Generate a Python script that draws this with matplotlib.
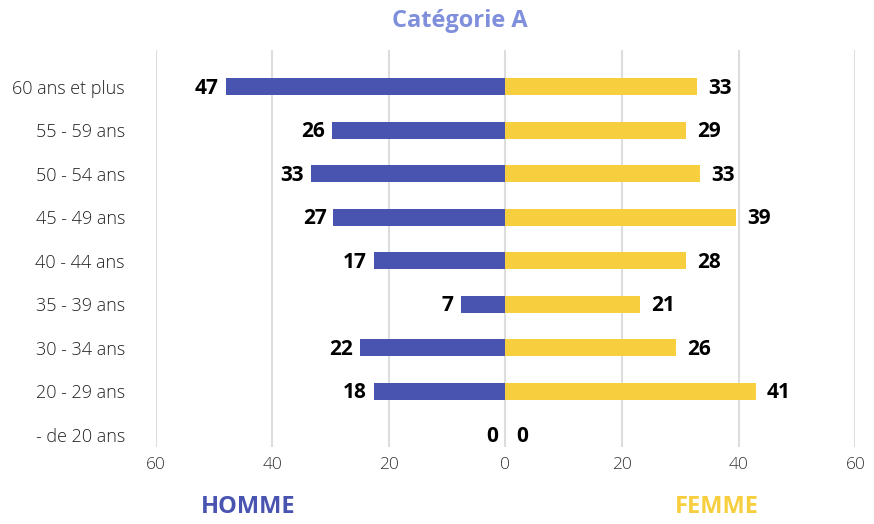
import numpy as np
import matplotlib
matplotlib.use('Agg')
import matplotlib.pyplot as plt

plt.rcParams['font.family'] = ['Open Sans', 'DejaVu Sans']

# tranches d'age, du bas vers le haut
ages = ['- de 20 ans', '20 - 29 ans', '30 - 34 ans', '35 - 39 ans', '40 - 44 ans',
        '45 - 49 ans', '50 - 54 ans', '55 - 59 ans', '60 ans et plus']
# valeurs affichees
homme_labels = [0, 18, 22, 7, 17, 27, 33, 26, 47]
femme_labels = [0, 41, 26, 21, 28, 39, 33, 29, 33]
# longueurs des barres
homme_bars = [0, 22.6, 25.0, 7.7, 22.6, 29.5, 33.4, 29.7, 48.0]
femme_bars = [0, 42.9, 29.3, 23.0, 30.9, 39.6, 33.3, 30.9, 32.9]
xticks = [-60, -40, -20, 0, 20, 40, 60]

bleu = '#4954b0'
jaune = '#f7cf3e'

fig = plt.figure(figsize=(8.74, 5.24), dpi=100)
ax = fig.add_axes([155.5 / 874, 77 / 524, 700 / 874, 397 / 524])

y = np.arange(len(ages))
ax.barh(y, -np.array(homme_bars), height=0.39, color=bleu, zorder=3)
ax.barh(y, femme_bars, height=0.39, color=jaune, zorder=3)

for i in range(len(ages)):
    ax.annotate(str(homme_labels[i]), (-homme_bars[i], y[i]), xytext=(-5, -1),
                textcoords='offset points', ha='right', va='center',
                fontsize=15, fontweight='bold', color='black', zorder=4)
    ax.annotate(str(femme_labels[i]), (femme_bars[i], y[i]), xytext=(8, -1),
                textcoords='offset points', ha='left', va='center',
                fontsize=15, fontweight='bold', color='black', zorder=4)

ax.set_xlim(-60, 60)
ax.set_ylim(-0.28, 8.85)
ax.set_xticks(xticks)
ax.set_xticklabels([str(abs(t)) for t in xticks])
ax.set_yticks(y)
ax.set_yticklabels(ages)
ax.tick_params(axis='x', length=0, pad=7, labelsize=12.5, labelcolor='#333333')
ax.tick_params(axis='y', length=0, pad=22, labelsize=13, labelcolor='#222222')
for lab in ax.get_xticklabels() + ax.get_yticklabels():
    lab.set_fontweight('light')
ax.grid(axis='x', color='#dddddd', linewidth=1.5, zorder=0)
for s in ax.spines.values():
    s.set_visible(False)

fig.text(460 / 874, 1 - 21 / 524, 'Catégorie A', ha='center', va='center',
         fontsize=17, fontweight='bold', color='#7f8fdb')
fig.text(248 / 874, 1 - 507 / 524, 'HOMME', ha='center', va='center',
         fontsize=17, fontweight='bold', color=bleu)
fig.text(717 / 874, 1 - 507 / 524, 'FEMME', ha='center', va='center',
         fontsize=17, fontweight='bold', color=jaune)

fig.savefig('out.png', dpi=100)
